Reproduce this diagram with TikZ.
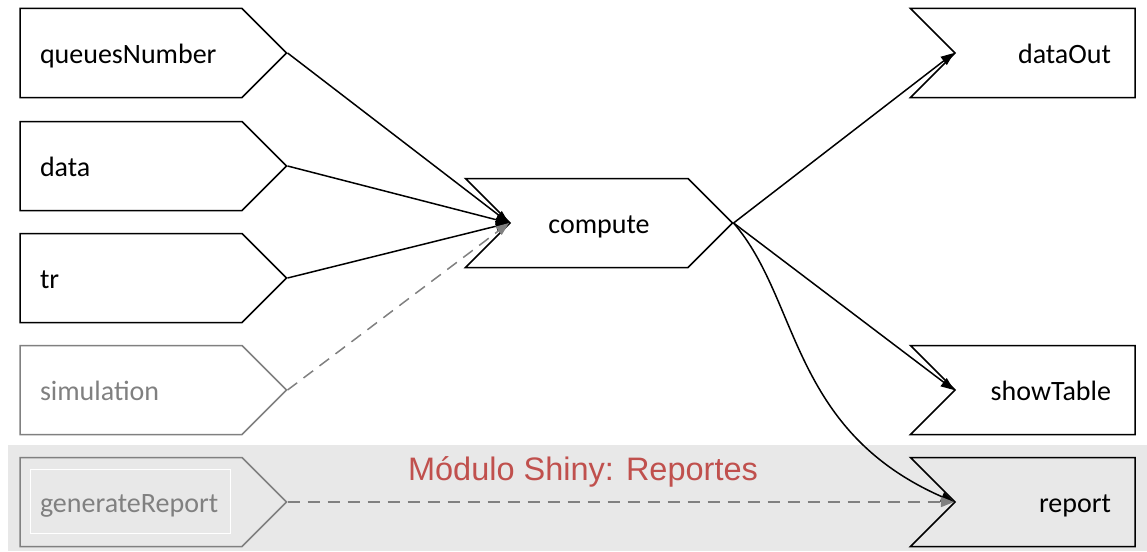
\documentclass[tikz,border=0pt]{standalone}
\usepackage{fontspec}
\setmainfont{Carlito}
\newfontfamily\titlefont{Liberation Sans}
\usetikzlibrary{arrows.meta,shapes.symbols}

\definecolor{bandgray}{HTML}{E8E8E8}
\definecolor{greyline}{HTML}{808080}
\definecolor{titlered}{HTML}{C0504D}

\begin{document}
\begin{tikzpicture}[x=1pt,y=-1pt,>={Triangle[length=13pt,width=10pt]},line width=1.5pt,
    box/.style={signal, draw, signal pointer angle=90, minimum height=89pt, inner xsep=20pt},
    inbox/.style={box, signal to=east, text width=182pt},
    midbox/.style={box, signal from=west, signal to=east, text width=138pt},
    outbox/.style={box, signal from=west, signal to=nowhere, text width=140pt},
    txt/.style={inner sep=0pt, yshift=-10.5pt, font=\fontsize{28}{32}\selectfont},
    intxt/.style={txt, anchor=base west, xshift=20pt},
    midtxt/.style={txt, anchor=base},
    outtxt/.style={txt, anchor=base east, xshift=-24pt},
    faded/.style={draw=greyline, text=greyline},
    flow/.style={->},
    weak/.style={->, greyline, dashed, dash pattern=on 12pt off 8pt}]
    \useasboundingbox (0,0) rectangle (1147,551);
    \fill[bandgray] (8,445) rectangle (1147,551);
    \node[titlered, font=\titlefont\fontsize{32.5}{38}\selectfont] (title) at (583,472) {Módulo Shiny: Reportes};

    % inputs
    \node[inbox]           (queues) at (131,53)  {};
    \node[inbox]           (data)   at (131,166) {};
    \node[inbox]           (tr)     at (131,278) {};
    \node[inbox, faded]    (sim)    at (131,390) {};
    \node[inbox, faded]    (gen)    at (131,502) {};
    \draw[white, line width=1pt] (30,469) rectangle (230,533);
    \node[intxt]           (queuesTxt) at (queues.west) {queuesNumber};
    \node[intxt]           (dataTxt)   at (data.west)   {data};
    \node[intxt]           (trTxt)     at (tr.west)     {tr};
    \node[intxt, greyline] (simTxt)    at (sim.west)    {simulation};
    \node[intxt, greyline] (genTxt)    at (gen.west)    {generateReport};

    \node[midbox]          (compute)    at (599,223) {};
    \node[midtxt]          (computeTxt) at (compute.center) {compute};

    % outputs
    \node[outbox, fill=white] (dataOut)   at (1045,53)  {};
    \node[outbox, fill=white] (showTable) at (1045,390) {};
    \node[outbox]             (report)    at (1045,502) {};
    \node[outtxt] (dataOutTxt)   at (dataOut.east)   {dataOut};
    \node[outtxt] (showTableTxt) at (showTable.east) {showTable};
    \node[outtxt] (reportTxt)    at (report.east)    {report};

    \draw[flow] (queues.east) -- (compute.west);
    \draw[flow] (data.east)   -- (compute.west);
    \draw[flow] (tr.east)     -- (compute.west);
    \draw[weak] (sim.east)    -- (compute.west);
    \draw[flow] (compute.east) -- (dataOut.west);
    \draw[flow] (compute.east) -- (showTable.west);
    \draw[flow] (compute.east) .. controls (800,300) and (790,430) .. (report.west);
    \draw[weak] (gen.east)    -- (report.west);
\end{tikzpicture}
\end{document}
